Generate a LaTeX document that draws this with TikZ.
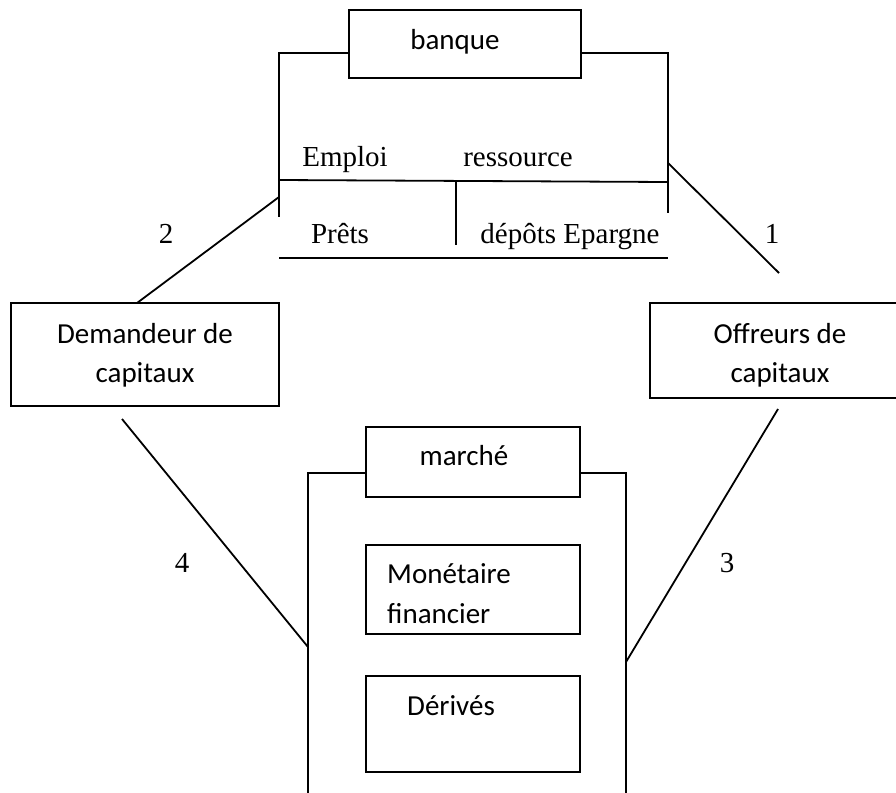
\documentclass[tikz,border=0pt]{standalone}
\usepackage{fontspec}
\setmainfont{Liberation Serif}
\newfontfamily\calib{Carlito}
\begin{document}
\begin{tikzpicture}[x=1pt,y=-1pt,
  ln/.style={line width=1.8pt},
  boxr/.style={draw,line width=1.8pt,rectangle,inner sep=0pt},
  sans/.style={font=\calib\fontsize{29}{42}\selectfont,inner sep=0pt},
  serif/.style={font=\fontsize{29}{35}\selectfont,inner sep=0pt}]
\useasboundingbox (0,0) rectangle (896,792);
\clip (0,0) rectangle (896,792);
% boxes
\node[boxr,minimum width=232pt,minimum height=68pt] (banque) at (465,44) {};
\node[boxr,minimum width=268pt,minimum height=103pt] (dem) at (145,354.5) {};
\node[boxr,minimum width=260pt,minimum height=95pt] (off) at (780,350.5) {};
\node[boxr,minimum width=214pt,minimum height=70pt] (marche) at (473,462) {};
\node[boxr,minimum width=214pt,minimum height=89pt] (mon) at (473,589.5) {};
\node[boxr,minimum width=214pt,minimum height=96pt] (der) at (473,724) {};
% texts
\node[sans,anchor=base] (tbanque) at (455,50) {banque};
\node[sans,anchor=base] (tdem1) at (145,343) {Demandeur de};
\node[sans,anchor=base] (tdem2) at (145,382) {capitaux};
\node[sans,anchor=base] (toff1) at (780,343) {Offreurs de};
\node[sans,anchor=base] (toff2) at (780,382) {capitaux};
\node[sans,anchor=base] (tmarche) at (464,465) {marché};
\node[sans,anchor=base west] (tmon1) at (387,583) {Monétaire};
\node[sans,anchor=base west] (tmon2) at (387,623) {financier};
\node[sans,anchor=base west] (tder) at (407,715) {Dérivés};
\node[serif,anchor=base] (temp) at (345,166) {Emploi};
\node[serif,anchor=base] (tres) at (518,166) {ressource};
\node[serif,anchor=base] (tpre) at (340,243) {Prêts};
\node[serif,anchor=base] (tdep) at (570,243) {dépôts Epargne};
\node[serif,anchor=base] (n2) at (166,243) {2};
\node[serif,anchor=base] (n1) at (772,243) {1};
\node[serif,anchor=base] (n4) at (182,572) {4};
\node[serif,anchor=base] (n3) at (727,572) {3};
% banque frame
\coordinate (bl1) at (349,53); \coordinate (bl0) at (279,53); \coordinate (bl2) at (279,217);
\coordinate (br1) at (581,53); \coordinate (br0) at (668,53); \coordinate (br2) at (668,213);
\coordinate (hl) at (279,180); \coordinate (hr) at (668,182);
\coordinate (mt) at (456,180); \coordinate (mb) at (456,245);
\coordinate (bbl) at (279,258); \coordinate (bbr) at (668,258);
\draw[ln] (bl1) -- (bl0) -- (bl2);
\draw[ln] (br1) -- (br0) -- (br2);
\draw[ln] (hl) -- (hr);
\draw[ln] (mt) -- (mb);
\draw[ln] (bbl) -- (bbr);
% marche frame
\coordinate (ml1) at (366,473); \coordinate (ml0) at (308,473); \coordinate (ml2) at (308,800);
\coordinate (mr1) at (580,473); \coordinate (mr0) at (626,473); \coordinate (mr2) at (626,800);
\draw[ln] (ml1) -- (ml0) -- (ml2);
\draw[ln] (mr1) -- (mr0) -- (mr2);
% connectors
\coordinate (c2a) at (279,197); \coordinate (c2b) at (137,303);
\coordinate (c1a) at (668,163); \coordinate (c1b) at (779,273);
\coordinate (c4a) at (122,419); \coordinate (c4b) at (308,647);
\coordinate (c3a) at (778,409); \coordinate (c3b) at (626,662);
\draw[ln] (c2a) -- (c2b);
\draw[ln] (c1a) -- (c1b);
\draw[ln] (c4a) -- (c4b);
\draw[ln] (c3a) -- (c3b);
\end{tikzpicture}
\end{document}
